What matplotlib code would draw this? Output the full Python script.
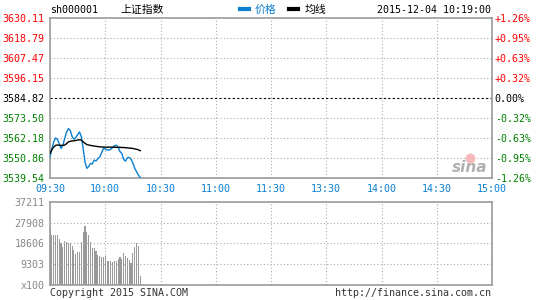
import numpy as np
import matplotlib
matplotlib.use("Agg")
from matplotlib import pyplot as plt
from matplotlib.lines import Line2D

# minute data from 09:30 to 10:19
price = [3551.5, 3556.0, 3560.0, 3562.2, 3561.5, 3559.0, 3556.3, 3558.0, 3562.0, 3565.5,
         3567.5, 3566.5, 3563.0, 3561.5, 3562.5, 3564.0, 3565.6, 3563.0, 3556.3, 3548.7,
         3545.0, 3546.0, 3547.8, 3547.5, 3549.7, 3549.2, 3550.5, 3551.5, 3553.8, 3556.3,
         3556.0, 3555.5, 3555.3, 3555.8, 3556.8, 3557.8, 3558.1, 3557.0, 3554.5, 3553.4,
         3550.0, 3549.1, 3551.0, 3551.2, 3550.2, 3548.0, 3545.0, 3543.1, 3541.2, 3539.8]
avg = [3553.5, 3555.5, 3557.0, 3558.0, 3558.2, 3558.1, 3558.0, 3558.0, 3558.2, 3559.0,
       3560.0, 3560.3, 3560.5, 3560.6, 3560.8, 3561.0, 3561.2, 3561.0, 3560.0, 3559.2,
       3558.5, 3558.2, 3558.0, 3557.8, 3557.6, 3557.5, 3557.3, 3557.2, 3557.1, 3557.1,
       3557.0, 3557.0, 3557.0, 3557.0, 3557.0, 3557.0, 3556.9, 3556.9, 3556.9, 3556.8,
       3556.8, 3556.7, 3556.6, 3556.5, 3556.4, 3556.3, 3556.0, 3555.8, 3555.5, 3555.0]
volume = [24900, 22250, 22250, 22250, 22550, 20770, 18550, 17050, 19600, 19280,
          18850, 18850, 17500, 15600, 13800, 14820, 14540, 19280, 23730, 26250,
          23730, 22250, 19280, 16470, 16470, 15280, 13350, 12900, 12310, 12600,
          13050, 10820, 10820, 10530, 10230, 10530, 10680, 11420, 12310, 11720,
          14380, 12900, 11870, 11120, 9650, 14100, 16770, 18850, 17350, 4000]

price_ticks = [3539.54, 3550.86, 3562.18, 3573.50, 3584.82, 3596.15, 3607.47, 3618.79, 3630.11]
pct_labels = ['-1.26%', '-0.95%', '-0.63%', '-0.32%', '0.00%', '+0.32%', '+0.63%', '+0.95%', '+1.26%']
vol_ticks = [0, 9303, 18606, 27908, 37211]
vol_labels = ['x100', '9303', '18606', '27908', '37211']
time_labels = ['09:30', '10:00', '10:30', '11:00', '11:30', '13:30', '14:00', '14:30', '15:00']

mono = 'DejaVu Sans Mono'
fs = 7.2
red, green, blue = '#ff0000', '#008000', '#0a7fd0'
edge = '#999999'
gridc = '#aaaaaa'

fig = plt.figure(figsize=(5.45, 3.0), dpi=100)
ax = fig.add_axes([50/545, 1-178/300, 442/545, 160/300])
axv = fig.add_axes([50/545, 1-285/300, 442/545, 83.3/300])

t = np.arange(len(price))
ax.plot(t, price, color=blue, lw=1.0, zorder=3)
ax.plot(t, avg, color='black', lw=1.0, zorder=3)
ax.set_xlim(0, 240)
ax.set_ylim(price_ticks[0], price_ticks[-1])
ax.set_xticks(np.arange(0, 241, 30))
ax.set_xticklabels(time_labels)
ax.set_yticks(price_ticks)
ax.set_yticklabels(['%.2f' % p for p in price_ticks])
colors = [green]*4 + ['black'] + [red]*4
for lab, c in zip(ax.get_yticklabels(), colors):
    lab.set_color(c)
ax.tick_params(length=0, labelsize=fs, pad=4)
for lab in ax.get_xticklabels():
    lab.set_color(blue)
    lab.set_fontfamily(mono)
for lab in ax.get_yticklabels():
    lab.set_fontfamily(mono)
for x in range(30, 240, 30):
    ax.axvline(x, color=gridc, lw=0.8, ls=(0, (1, 2)), zorder=1)
for i, p in enumerate(price_ticks[1:-1]):
    if i == 3:
        ax.axhline(p, color='black', lw=0.8, ls=(0, (2, 2)), zorder=1)
    else:
        ax.axhline(p, color=gridc, lw=0.8, ls=(0, (1, 2)), zorder=1)
for s in ax.spines.values():
    s.set_color(edge)
    s.set_linewidth(1.2)

ax2 = ax.twinx()
ax2.set_ylim(price_ticks[0], price_ticks[-1])
ax2.set_yticks(price_ticks)
ax2.set_yticklabels(pct_labels, fontfamily=mono)
for lab, c in zip(ax2.get_yticklabels(), colors):
    lab.set_color(c)
ax2.tick_params(length=0, labelsize=fs, pad=2)
for s in ax2.spines.values():
    s.set_visible(False)

# watermark
ax.text(228, 3545.5, 'sina', color='#b0b0b0', fontsize=11, fontstyle='italic',
        fontweight='bold', ha='center', va='center', zorder=2)
ax.scatter([228], [3551], s=50, color='#f6b8b8', zorder=2, lw=0)

axv.bar(t, volume, width=0.6, color='#999999', zorder=3)
axv.set_xlim(0, 240)
axv.set_ylim(0, vol_ticks[-1])
axv.set_xticks([])
axv.set_yticks(vol_ticks)
axv.set_yticklabels(vol_labels, fontfamily=mono, color='#888888')
axv.tick_params(length=0, labelsize=fs, pad=4)
for x in range(30, 240, 30):
    axv.axvline(x, color=gridc, lw=0.8, ls=(0, (1, 2)), zorder=1)
for v in vol_ticks[1:-1]:
    axv.axhline(v, color=gridc, lw=0.8, ls=(0, (1, 2)), zorder=4)
for s in axv.spines.values():
    s.set_color(edge)
    s.set_linewidth(1.2)

# header
fig.text(50/545, 1-10/300, 'sh000001', fontsize=fs, family=mono, va='center')
fig.text(120/545, 1-10/300, '上证指数', fontsize=fs+0.6, family=['Noto Sans CJK SC', mono], va='center')
fig.add_artist(Line2D([240/545, 249/545], [1-9/300, 1-9/300], color=blue, lw=3))
fig.text(255/545, 1-10/300, '价格', fontsize=fs+0.6, color=blue, family=['Noto Sans CJK SC', mono], va='center')
fig.add_artist(Line2D([289/545, 298/545], [1-9/300, 1-9/300], color='black', lw=3))
fig.text(305/545, 1-10/300, '均线', fontsize=fs+0.6, family=['Noto Sans CJK SC', mono], va='center')
fig.text(491/545, 1-10/300, '2015-12-04 10:19:00', fontsize=fs, family=mono, va='center', ha='right')

fig.text(50/545, 1-293/300, 'Copyright 2015 SINA.COM', fontsize=fs, family=mono, va='center', color='#333333')
fig.text(491/545, 1-293/300, 'http://finance.sina.com.cn', fontsize=fs, family=mono, va='center', ha='right', color='#333333')

fig.savefig('out.png', dpi=100)
